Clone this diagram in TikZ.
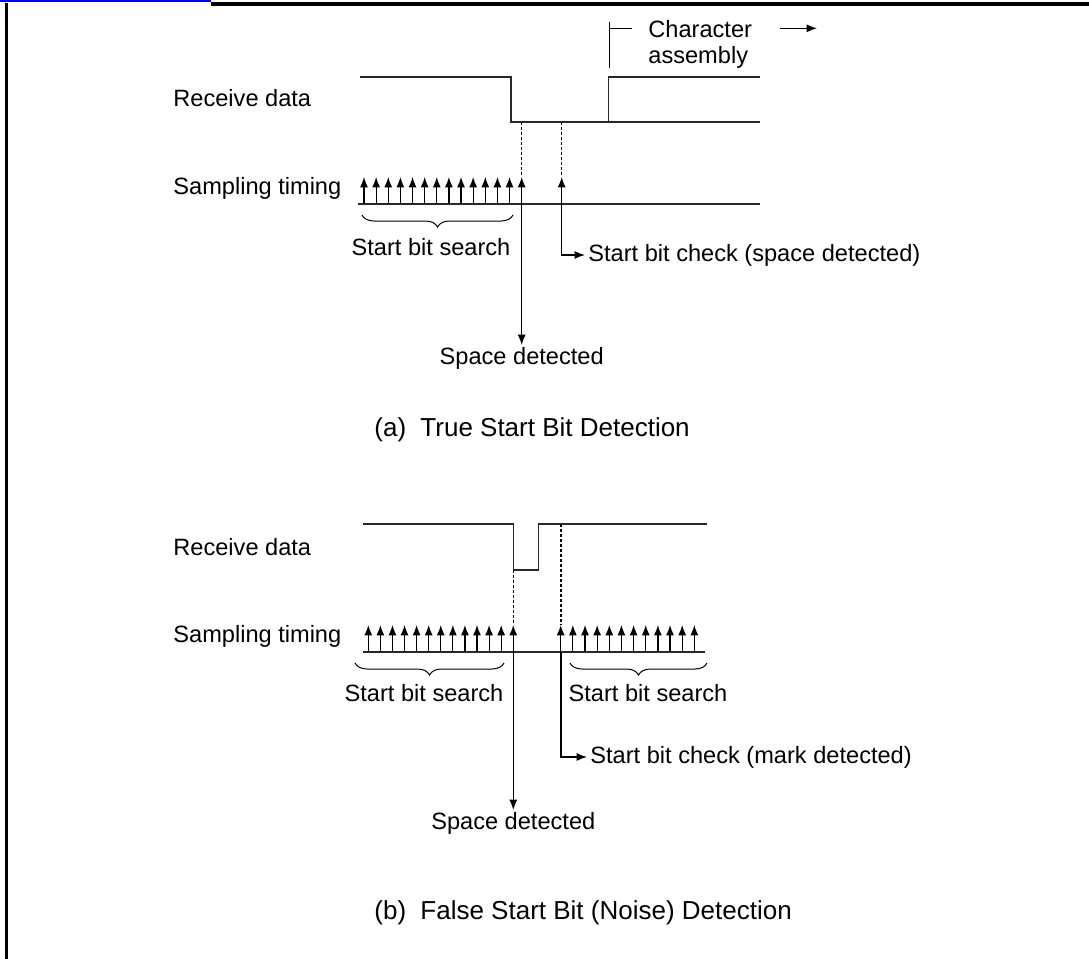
\documentclass[tikz,border=0pt]{standalone}
\usepackage{fontspec}
\setmainfont{Liberation Sans}
\usetikzlibrary{arrows.meta,positioning,decorations.pathreplacing}
\definecolor{FrameBlue}{RGB}{0,0,255}
\definecolor{WireGray}{RGB}{40,40,40}

\begin{document}
\begin{tikzpicture}[
   x=0.5pt,y=-0.5pt,
   font=\fontsize{11.8}{13}\selectfont,
   sig/.style={line width=0.65pt,WireGray},
   samp/.style={-{Latex[length=5.2pt,width=4pt]},line width=0.6pt},
   lead/.style={-{Latex[length=5.2pt,width=4pt]},line width=0.6pt},
   guide/.style={dash pattern=on 1.5pt off 1pt,line width=0.6pt},
   brc/.style={decorate,decoration={brace,mirror,amplitude=6pt},line width=0.5pt},
   lbl/.style={anchor=west,inner sep=0pt},
   capt/.style={anchor=west,inner sep=0pt,font=\fontsize{13}{15}\selectfont}]
   \useasboundingbox (0,0) rectangle (1089,959);
   % page frame
   \draw[FrameBlue,line width=1.2pt] (0,1) -- (211,1);
   \draw[line width=2pt] (211,3.5) -- (1089,3.5);
   \draw[line width=1.6pt] (6.5,3) -- (6.5,959);

   % (a) true start bit
   \node[lbl] (rxa) at (173,98) {Receive data};
   \node[lbl] (sta) at (173,188) {Sampling timing};
   \draw[sig] (360,77) -- (511,77) -- (511,122) -- (760,122);
   \draw[sig] (608.5,122) -- (608.5,77) -- (760,77);
   \coordinate (tka) at (609,21.7);
   \coordinate (tkb) at (609,68.3);
   \node[anchor=north west,align=left,inner sep=0pt] (chr) at (648,20) {Character\\assembly};
   \draw[line width=0.5pt] (tka) -- (tkb);
   \draw[line width=0.5pt] (609,28.3) -- (631.7,28.3);
   \coordinate (asa) at (780,28.3);
   \coordinate (asb) at (817,28.3);
   \draw[lead] (asa) -- (asb);
   \draw[sig] (358,204) -- (760,204);
   \foreach \i in {0,...,13}
      \draw[samp] ({364+12.13*\i},204) -- ++(0,-27);
   \draw[samp] (561.7,204) -- (561.7,177);
   \draw[guide] (521.7,122) -- (521.7,177);
   \draw[guide] (561.7,122) -- (561.7,177);
   \draw[brc] (362,215) -- (513,215);
   \node (srcha) at (431,247) {Start bit search};
   \node[anchor=west,inner xsep=1.5pt,inner ysep=0pt] (chka) at (585,255) {Start bit check (space detected)};
   \draw[lead] (561.7,204) |- (chka.west);
   \node[anchor=north,inner sep=1pt] (spca) at (521.7,345) {Space detected};
   \draw[lead] (521.7,204) -- (spca.north);
   \node[capt] (capa) at (374,430) {(a)\hspace{0.55em}True Start Bit Detection};

   % (b) false start bit
   \node[lbl] (rxb) at (173,547) {Receive data};
   \node[lbl] (stb) at (173,636) {Sampling timing};
   \draw[sig] (363,524) -- (513.7,524) -- (513.7,570) -- (538.3,570) -- (538.3,524) -- (707,524);
   \draw[sig] (363,652) -- (705,652);
   \foreach \i in {0,...,12}
      \draw[samp] ({368.3+12.08*\i},652) -- ++(0,-27);
   \foreach \i in {0,...,11}
      \draw[samp] ({560.7+12.15*\i},652) -- ++(0,-27);
   \draw[guide] (513.3,570) -- (513.3,625);
   \draw[guide] (561,524) -- (561,625);
   \draw[brc] (355,663) -- (504,663);
   \draw[brc] (570,663) -- (707,663);
   \node (srchb) at (424,693) {Start bit search};
   \node (srchc) at (648,693) {Start bit search};
   \node[anchor=west,inner xsep=1.5pt,inner ysep=0pt] (chkb) at (587,757) {Start bit check (mark detected)};
   \draw[lead] (561,652) |- (chkb.west);
   \node[anchor=north,inner sep=1pt] (spcb) at (513.3,810) {Space detected};
   \draw[lead] (513.3,652) -- (spcb.north);
   \node[capt] (capb) at (374,913) {(b)\hspace{0.55em}False Start Bit (Noise) Detection};
\end{tikzpicture}
\end{document}
